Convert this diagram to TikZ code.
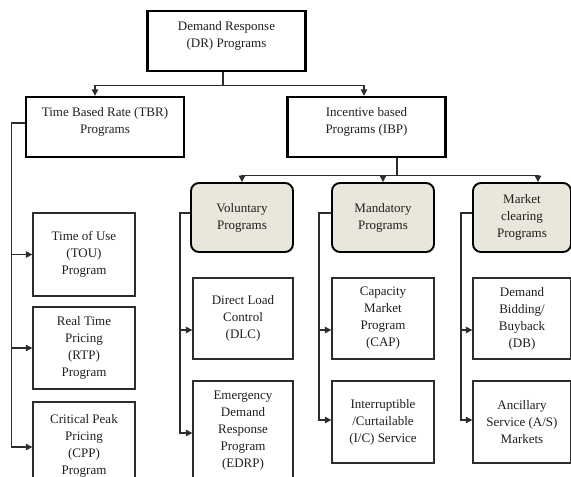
\documentclass[tikz,border=0pt]{standalone}
\usepackage{fontspec}
\setmainfont{Liberation Serif}
\usepackage{tikz}
\usepackage{xcolor}
\usetikzlibrary{arrows.meta, positioning, calc}
\definecolor{cBeige}{RGB}{233,231,219}
\definecolor{cLine}{RGB}{45,45,45}
\definecolor{cText}{RGB}{30,30,30}
\tikzset{
	topbox/.style  ={rectangle, draw=black, line width=2.4pt, minimum width=158pt, minimum height=60pt, text depth=13pt, align=center, text=cText},
	groupbox/.style={rectangle, rounded corners=8pt, draw=black, line width=1.9pt, fill=cBeige, minimum height=69pt, align=center, text=cText},
	progbox/.style ={rectangle, draw=cLine, line width=1.3pt, minimum height=82pt, align=center, text=cText},
	conn/.style    ={draw=cLine, line width=1.2pt},
	arr/.style     ={conn, -{Triangle[length=6.5pt, width=6.5pt]}},
}

\begin{document}
\begin{tikzpicture}[x=1pt, y=-1pt, font=\fontsize{13}{17}\selectfont]
	\useasboundingbox (0,0) rectangle (571,477);
	% top levels
	\node[topbox] (dr)  at (226.5,41) {Demand Response\\(DR) Programs};
	\node[topbox] (tbr) at (105,127)  {Time Based Rate (TBR)\\Programs};
	\node[topbox] (ibp) at (366.5,127) {Incentive based\\Programs (IBP)};
	% incentive groups
	\node[groupbox, minimum width=102pt] (vol) at (242,217.5) {Voluntary\\Programs};
	\node[groupbox, minimum width=102pt] (man) at (383,217.5) {Mandatory\\Programs};
	\node[groupbox, minimum width=98pt]  (mkt) at (522,217.5) {Market\\clearing\\Programs};
	% time based programs
	\node[progbox, minimum width=102pt, minimum height=83pt] (tou) at (84,254.5) {Time of Use\\(TOU)\\Program};
	\node[progbox, minimum width=102pt] (rtp) at (84,348) {Real Time\\Pricing\\(RTP)\\Program};
	\node[progbox, minimum width=102pt, minimum height=90pt, text depth=6pt] (cpp) at (84,447) {Critical Peak\\Pricing\\(CPP)\\Program};
	% incentive programs
	\node[progbox, minimum width=100pt, minimum height=81pt] (dlc) at (243,318.5) {Direct Load\\Control\\(DLC)};
	\node[progbox, minimum width=100pt, minimum height=100pt] (edrp) at (243,431) {Emergency\\Demand\\Response\\Program\\(EDRP)};
	\node[progbox, minimum width=102pt, minimum height=81pt] (cap) at (383,318.5) {Capacity\\Market\\Program\\(CAP)};
	\node[progbox, minimum width=102pt] (ic) at (383,422) {Interruptible\\/Curtailable\\(I/C) Service};
	\node[progbox, minimum width=98pt, minimum height=81pt] (db) at (522,318.5) {Demand\\Bidding/\\Buyback\\(DB)};
	\node[progbox, minimum width=98pt] (as) at (522,422) {Ancillary\\Service (A/S)\\Markets};

	% connectors
	\draw[conn] ([xshift=-3.5pt]dr.south) -- ++(0,13) coordinate (drj);
	\draw[arr] (drj) -| ([xshift=-10pt]tbr.north);
	\draw[arr] (drj) -| ([xshift=-2.5pt]ibp.north);
	\draw[conn] ([xshift=30.5pt]ibp.south) -- ++(0,17) coordinate (ibj);
	\draw[arr] (ibj) -| (vol.north);
	\draw[arr] (ibj) -| (man.north);
	\draw[arr] (ibj) -| ([xshift=16pt]mkt.north);
	\foreach \b in {tou, rtp, cpp}
		\draw[arr] ([yshift=4pt]tbr.west) -- ++(-13,0) |- (\b.west);
	\draw[arr] ([yshift=4.5pt]vol.west) -- ++(-10,0) |- ([yshift=-11.5pt]dlc.west);
	\draw[arr] ([yshift=4.5pt]vol.west) -- ++(-10,0) |- ([yshift=-2pt]edrp.west);
	\draw[arr] ([yshift=4.5pt]man.west) -- ++(-12,0) |- ([yshift=-11.5pt]cap.west);
	\draw[arr] ([yshift=4.5pt]man.west) -- ++(-12,0) |- ([yshift=2pt]ic.west);
	\draw[arr] ([yshift=4.5pt]mkt.west) -- ++(-11,0) |- ([yshift=-11.5pt]db.west);
	\draw[arr] ([yshift=4.5pt]mkt.west) -- ++(-11,0) |- ([yshift=2pt]as.west);
\end{tikzpicture}
\end{document}
